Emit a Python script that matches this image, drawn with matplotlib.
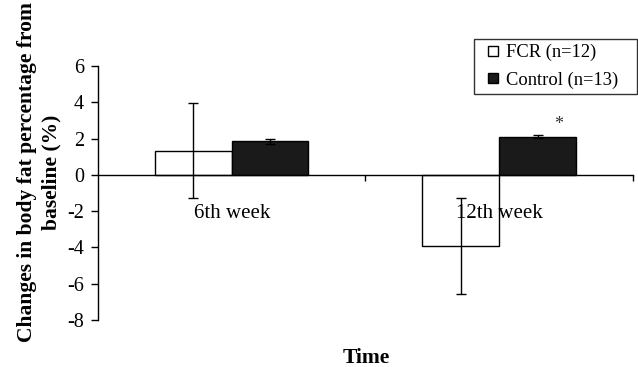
import matplotlib
matplotlib.use('Agg')
import matplotlib.pyplot as plt
from matplotlib.lines import Line2D
import numpy as np

plt.rcParams['font.family'] = ['Liberation Serif', 'DejaVu Serif']
plt.rcParams['axes.unicode_minus'] = False

# data
categories = ["6th week", "12th week"]
fcr_mean = [1.34, -3.92]
fcr_err = [2.62, 2.62]
ctrl_mean = [1.86, 2.11]
ctrl_err = [0.13, 0.10]
labels = ["FCR (n=12)", "Control (n=13)"]
colors = ["white", "#1a1a1a"]

fig = plt.figure(figsize=(6.38, 3.67), dpi=100)
ax = fig.add_axes([0.1536, 0.128, 0.8384, 0.692])

x = np.arange(len(categories))
w = 0.287
ekw = dict(ecolor="black", elinewidth=1.0, capsize=3.5, capthick=1.0, zorder=4)
ax.bar(x - w / 2, fcr_mean, w, yerr=fcr_err, color=colors[0], edgecolor="black",
       linewidth=1.0, error_kw=ekw, zorder=2)
ax.bar(x + w / 2, ctrl_mean, w, yerr=ctrl_err, color=colors[1], edgecolor="black",
       linewidth=1.0, error_kw=ekw, zorder=2)

# significance marker on the 12th week control bar
ax.text(x[1] + w / 2 + 0.08, ctrl_mean[1] + ctrl_err[1] + 0.1, "*",
        ha="center", va="bottom", fontsize=13, color="#333333")

ax.set_axisbelow(False)
ax.set_xlim(-0.5, 1.5)
ax.set_ylim(-8, 6)
ax.set_yticks(np.arange(-8, 7, 2))
ax.tick_params(axis="y", labelsize=14.5, length=5, width=1, direction="out", pad=5)

ax.spines["top"].set_visible(False)
ax.spines["right"].set_visible(False)
ax.spines["bottom"].set_position(("data", 0))
ax.spines["left"].set_linewidth(1)
ax.spines["bottom"].set_linewidth(1)

ax.set_xticks([0.5, 1.5])
ax.set_xticklabels([])
ax.tick_params(axis="x", which="major", length=4, width=1, direction="out")
ax.set_xticks(x, minor=True)
ax.set_xticklabels(categories, minor=True)
ax.tick_params(axis="x", which="minor", length=0, pad=21, labelsize=15)

ax.set_ylabel("Changes in body fat percentage from\nbaseline (%)",
              fontsize=15.5, fontweight="bold", linespacing=1.25)
ax.yaxis.set_label_coords(-0.069, 0.583)
fig.text(0.574, 0.011, "Time", ha="center", fontsize=15.5, fontweight="bold")

handles = [Line2D([], [], ls="", marker="s", ms=7.5, mfc=c, mec="black", mew=1.0)
           for c in colors]
leg = ax.legend(handles, labels, loc="upper right",
                bbox_to_anchor=(0.7028, 0.8, 0.3047, 0.306), mode="expand",
                fontsize=13.3, frameon=True, fancybox=False, edgecolor="black",
                handlelength=1.6, handletextpad=-0.12, borderpad=0.25,
                labelspacing=0.57, borderaxespad=0)
leg.get_frame().set_linewidth(1.0)

fig.savefig("out.png", dpi=100)
